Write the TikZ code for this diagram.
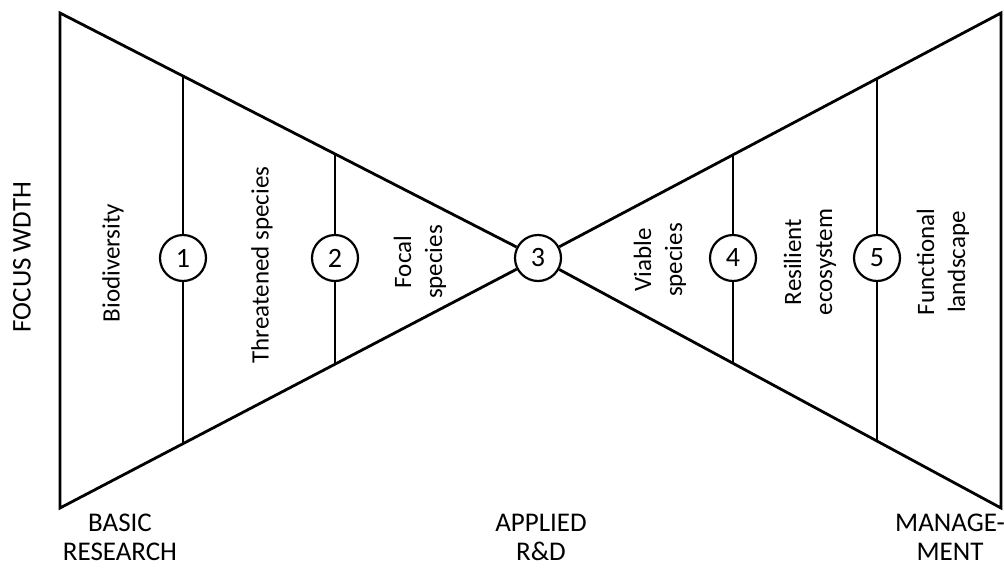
\documentclass[tikz,border=0pt]{standalone}
\usepackage{fontspec}
\setmainfont{Carlito}
\usetikzlibrary{calc}
\begin{document}
\begin{tikzpicture}[x=1pt,y=-1pt,
  edge/.style={line width=2.8pt, line join=miter},
  divider/.style={line width=1.7pt},
  stage/.style={circle, draw, line width=2.2pt, fill=white, minimum size=46pt,
    inner sep=0pt, font=\fontsize{28}{32}\selectfont},
  lbl/.style={rotate=90, align=center, inner sep=0pt,
    font=\fontsize{25}{31}\selectfont},
  axis/.style={align=center, inner sep=0pt, font=\fontsize{27}{29}\selectfont}]
\useasboundingbox (0,0) rectangle (1004,568);

% outer corners of the bow-tie
\coordinate (tl) at (60,13);
\coordinate (bl) at (60,508);
\coordinate (tr) at (1001,13);
\coordinate (br) at (1001,508);
\coordinate (apex) at (538,258);

% numbered stages
\node[stage] (n1) at (183,258) {1};
\node[stage] (n2) at (335,258) {2};
\node[stage] (n3) at (apex) {3};
\node[stage] (n4) at (733,258) {4};
\node[stage] (n5) at (877,258) {5};

% ends of the dividers on the slanted edges
\coordinate (t1) at ($(tl)!{(183-60)/(538-60)}!(apex)$);
\coordinate (b1) at ($(bl)!{(183-60)/(538-60)}!(apex)$);
\coordinate (t2) at ($(tl)!{(335-60)/(538-60)}!(apex)$);
\coordinate (b2) at ($(bl)!{(335-60)/(538-60)}!(apex)$);
\coordinate (t4) at ($(apex)!{(733-538)/(1001-538)}!(tr)$);
\coordinate (b4) at ($(apex)!{(733-538)/(1001-538)}!(br)$);
\coordinate (t5) at ($(apex)!{(877-538)/(1001-538)}!(tr)$);
\coordinate (b5) at ($(apex)!{(877-538)/(1001-538)}!(br)$);

% the two triangles
\draw[edge] (n3) -- (tl) -- (bl) -- (n3);
\draw[edge] (n3) -- (tr) -- (br) -- (n3);

% dividers through the stages
\foreach \i in {1,2,4,5} {
  \draw[divider] (t\i) -- (n\i);
  \draw[divider] (n\i) -- (b\i);
}

% section labels
\node[lbl] (lbio) at (113,263) {Biodiversity};
\node[lbl] (lthr) at (262,265) {Threatened species};
\node[lbl] (lfoc) at (420,262) {Focal\\species};
\node[lbl] (lvia) at (660,260) {Viable\\species};
\node[lbl] (lres) at (810,262) {Resilient\\ecosystem};
\node[lbl] (lfun) at (943,262) {Functional\\landscape};

% axis labels
\node[axis, rotate=90] (focus) at (22,257) {FOCUS WDTH};
\node[axis] (basic) at (120,537) {BASIC\\RESEARCH};
\node[axis] (appl) at (541,537) {APPLIED\\R\&D};
\node[axis] (mgmt) at (950,537) {MANAGE-\\MENT};
\end{tikzpicture}
\end{document}
